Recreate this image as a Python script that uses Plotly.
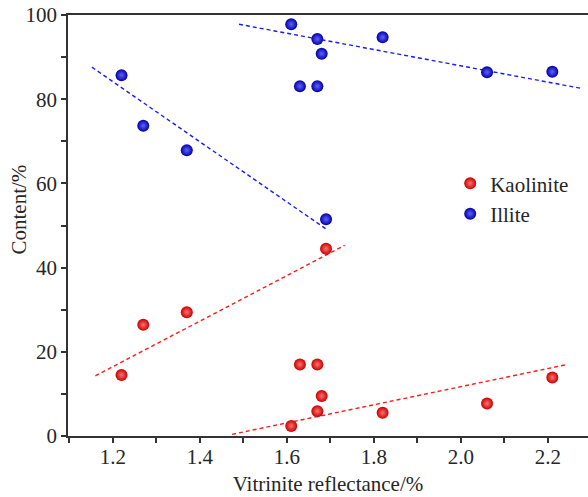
import plotly.graph_objects as go

# Vitrinite reflectance (%) and clay mineral content (%)
ro_illite = [1.22, 1.27, 1.37, 1.69, 1.61, 1.63, 1.67, 1.67, 1.68, 1.82, 2.06, 2.21]
illite = [85.7, 73.7, 67.9, 51.5, 97.8, 83.1, 83.1, 94.3, 90.8, 94.7, 86.4, 86.5]

ro_kaolinite = [1.22, 1.27, 1.37, 1.69, 1.61, 1.63, 1.67, 1.67, 1.68, 1.82, 2.06, 2.21]
kaolinite = [14.5, 26.4, 29.4, 44.5, 2.4, 17.0, 17.0, 5.9, 9.5, 5.5, 7.7, 13.9]

# Trend line end points (two stages per mineral)
illite_trend1_x = [1.152, 1.691]
illite_trend1_y = [87.6, 49.1]
illite_trend2_x = [1.490, 2.275]
illite_trend2_y = [97.8, 82.6]
kaol_trend1_x = [1.160, 1.733]
kaol_trend1_y = [14.3, 45.3]
kaol_trend2_x = [1.474, 2.245]
kaol_trend2_y = [0.4, 17.0]

x_ticks = [1.2, 1.4, 1.6, 1.8, 2.0, 2.2]
x_tick_labels = ["1.2", "1.4", "1.6", "1.8", "2.0", "2.2"]
y_ticks = [0, 20, 40, 60, 80, 100]

FONT = "Liberation Serif, Times New Roman, serif"
RED = "#ff1a1a"
BLUE = "#1a1aff"
INK = "#262626"
AXIS = "#333333"

fig = go.Figure()

for xs, ys, col in [
    (illite_trend1_x, illite_trend1_y, BLUE),
    (illite_trend2_x, illite_trend2_y, BLUE),
    (kaol_trend1_x, kaol_trend1_y, RED),
    (kaol_trend2_x, kaol_trend2_y, RED),
]:
    fig.add_trace(go.Scatter(
        x=xs, y=ys, mode="lines", showlegend=False, hoverinfo="skip",
        line=dict(color=col, width=1.4, dash="4px,3px"),
    ))

fig.add_trace(go.Scatter(
    x=ro_kaolinite, y=kaolinite, mode="markers", name="Kaolinite",
    marker=dict(size=12, color="#c80000",
                gradient=dict(type="radial", color="#ff7070"),
                line=dict(width=0)),
))
fig.add_trace(go.Scatter(
    x=ro_illite, y=illite, mode="markers", name="Illite",
    marker=dict(size=12, color="#0000a8",
                gradient=dict(type="radial", color="#6060ff"),
                line=dict(width=0)),
))

fig.update_layout(
    width=588, height=497,
    margin=dict(l=68, r=0, t=15, b=61, autoexpand=False),
    plot_bgcolor="white", paper_bgcolor="white",
    font=dict(family=FONT, size=21, color=INK),
    legend=dict(x=0.735, y=0.648, xanchor="left", yanchor="top",
                bgcolor="rgba(0,0,0,0)", font=dict(size=21, color=INK),
                itemwidth=30, tracegroupgap=0),
    xaxis=dict(
        range=[1.097, 2.292], showgrid=False, zeroline=False,
        automargin=False,
        showline=True, linecolor=AXIS, linewidth=1.5, mirror=True,
        tickvals=x_ticks, ticktext=x_tick_labels,
        ticks="outside", ticklen=5, tickwidth=1.5, tickcolor=AXIS,
        ticklabelstandoff=-4,
        minor=dict(dtick=0.1, ticks="outside", ticklen=5, tickwidth=1.5,
                   tickcolor=AXIS),
        title=dict(text="Vitrinite reflectance/%", standoff=8,
                   font=dict(size=21)),
    ),
    yaxis=dict(
        range=[0, 100], showgrid=False, zeroline=False,
        automargin=False,
        showline=True, linecolor=AXIS, linewidth=1.5,
        tickvals=y_ticks,
        ticks="outside", ticklen=5, tickwidth=1.5, tickcolor=AXIS,
        minor=dict(dtick=10, ticks="outside", ticklen=5, tickwidth=1.5,
                   tickcolor=AXIS),
    ),
    annotations=[dict(
        text="Content/%", textangle=-90, showarrow=False,
        xref="paper", yref="paper", x=-0.095, y=0.537,
        xanchor="center", yanchor="middle",
        font=dict(size=21, color=INK),
    )],
)

fig.write_html("out.html")
